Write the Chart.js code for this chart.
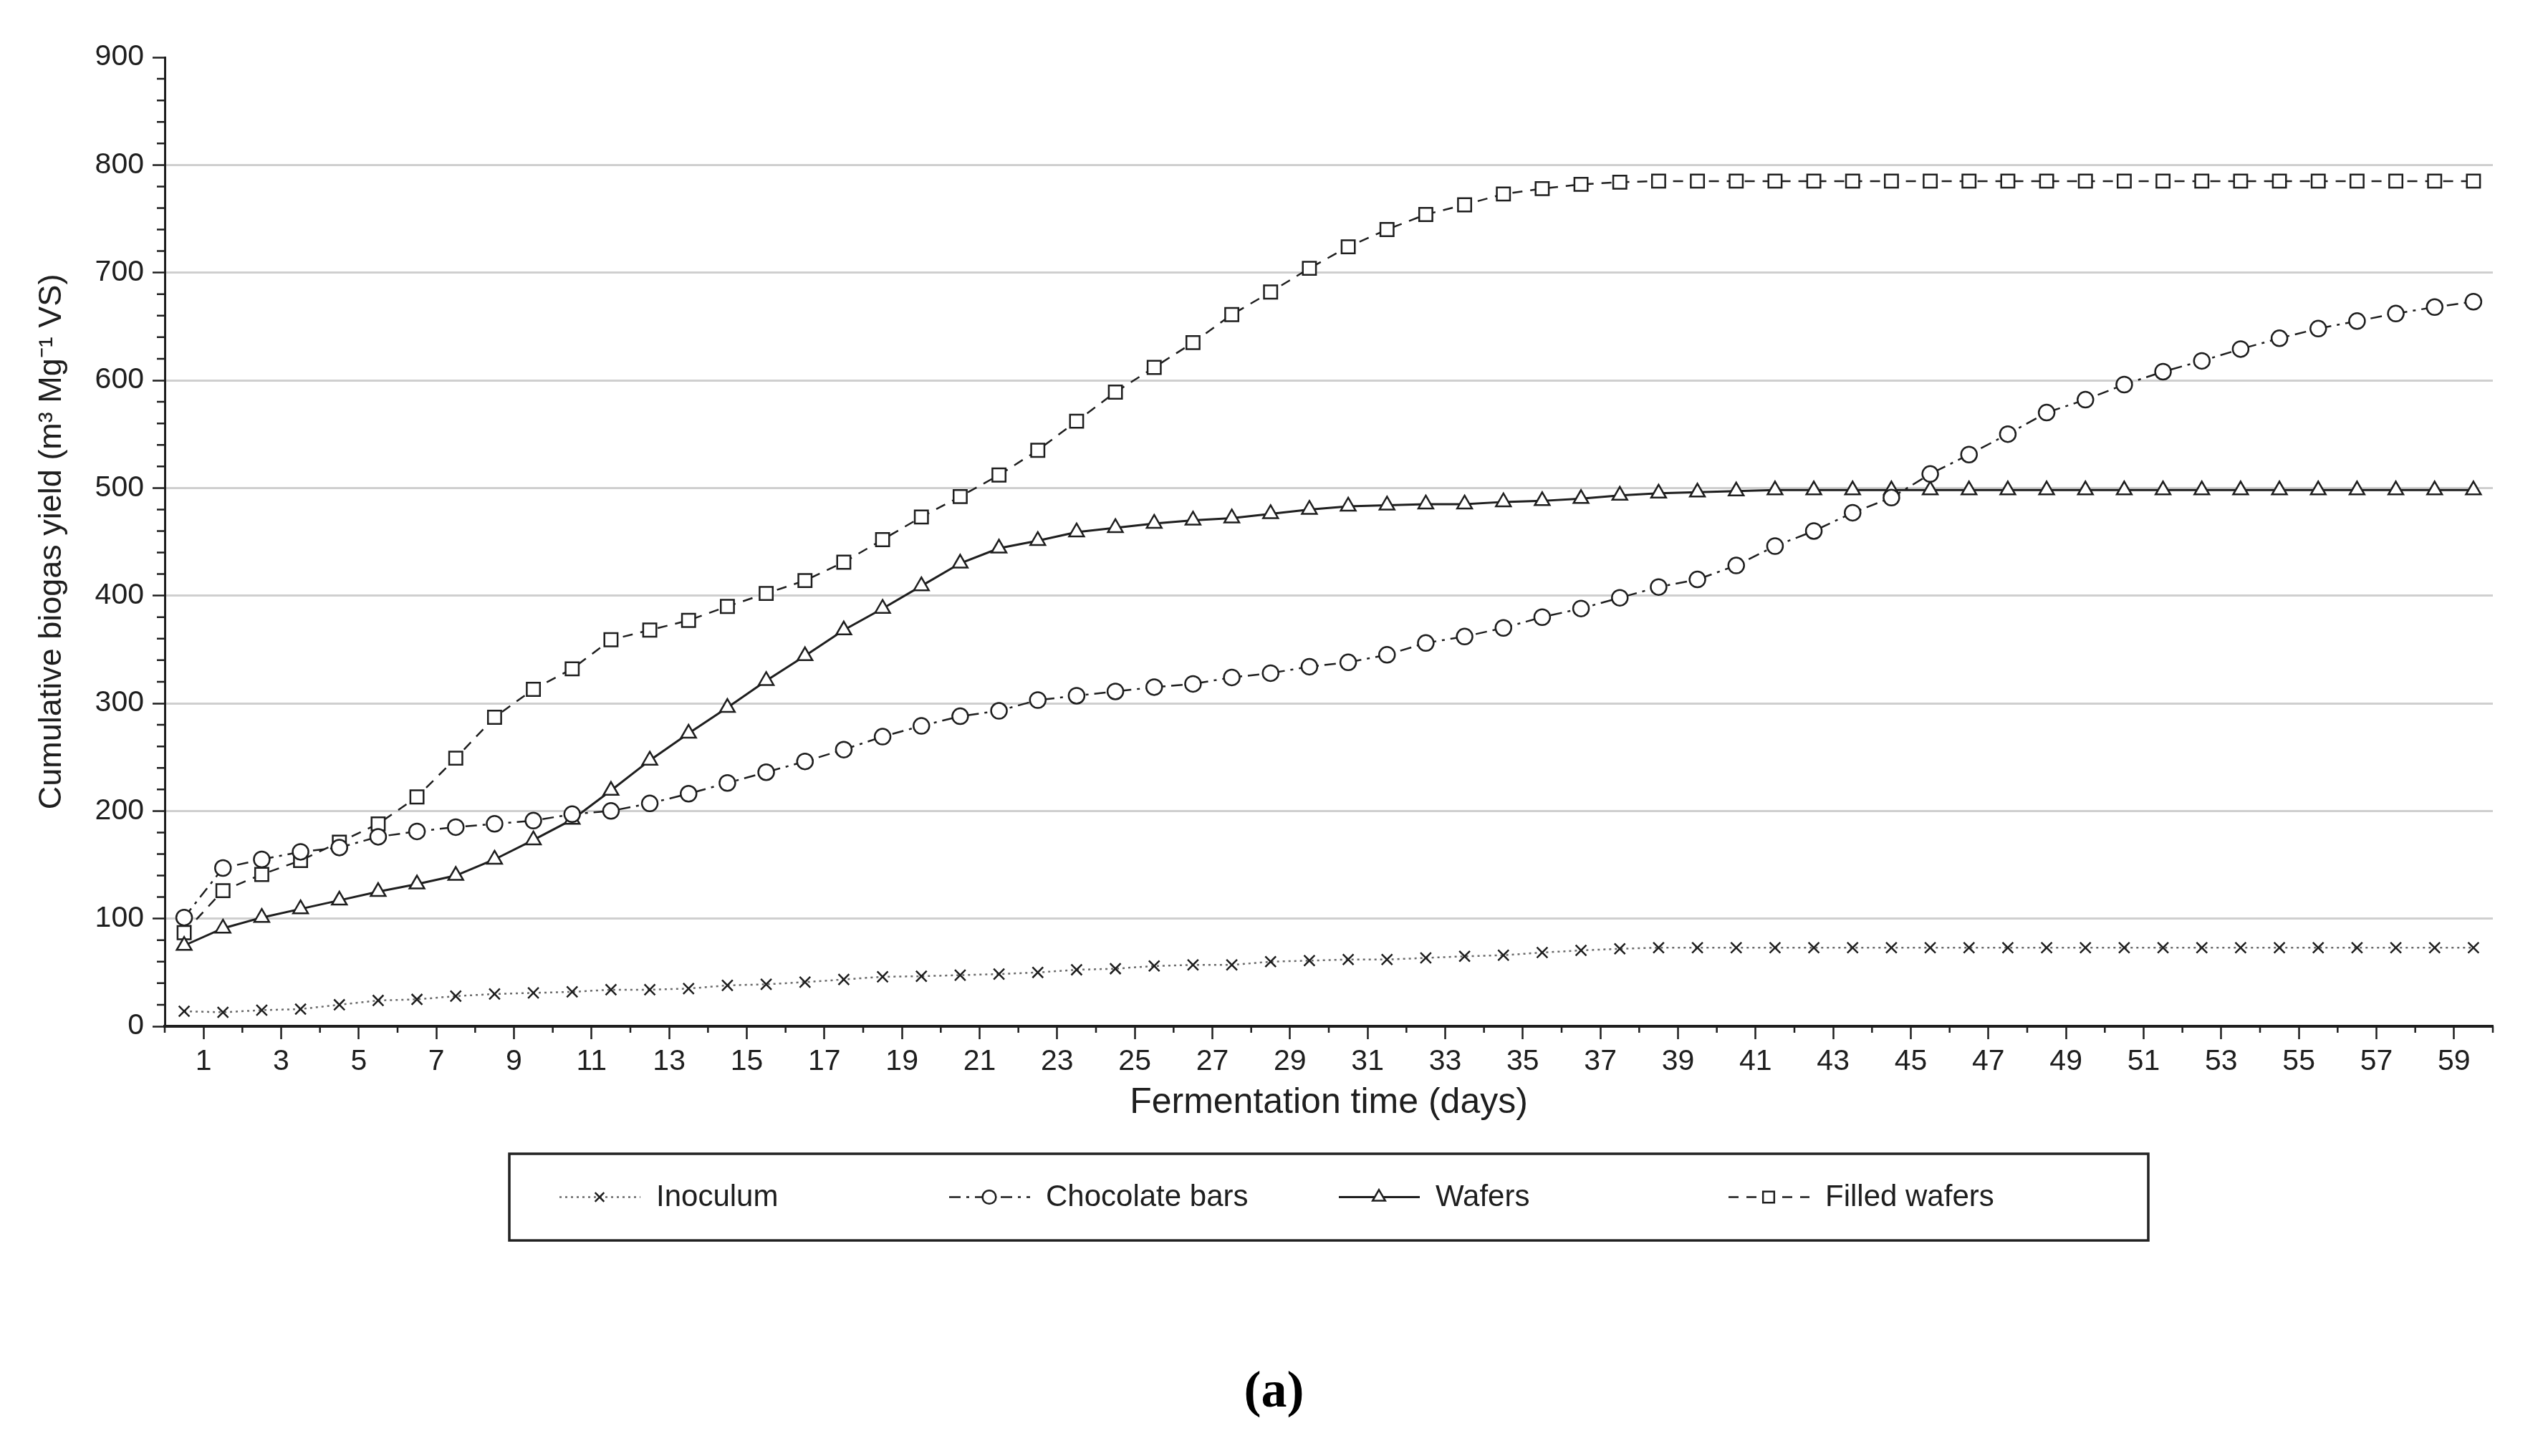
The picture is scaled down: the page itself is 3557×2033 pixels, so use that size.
<!DOCTYPE html>
<html>
<head>
<meta charset="utf-8">
<script src="https://cdn.jsdelivr.net/npm/chart.js@4.4.1/dist/chart.umd.min.js"></script>
<style>
    html, body { margin: 0; padding: 0; background: #fff; }
    #wrap { width: 3557px; height: 2033px; position: relative; }
</style>
</head>
<body>
<div id="wrap"><canvas id="biogasChart"></canvas></div>
<script>
// Fermentation time (days) - measurements taken mid-day
const days = [0.5, 1.5, 2.5, 3.5, 4.5, 5.5, 6.5, 7.5, 8.5, 9.5,
    10.5, 11.5, 12.5, 13.5, 14.5, 15.5, 16.5, 17.5, 18.5, 19.5,
    20.5, 21.5, 22.5, 23.5, 24.5, 25.5, 26.5, 27.5, 28.5, 29.5,
    30.5, 31.5, 32.5, 33.5, 34.5, 35.5, 36.5, 37.5, 38.5, 39.5,
    40.5, 41.5, 42.5, 43.5, 44.5, 45.5, 46.5, 47.5, 48.5, 49.5,
    50.5, 51.5, 52.5, 53.5, 54.5, 55.5, 56.5, 57.5, 58.5, 59.5];

// Cumulative biogas yield (m3 Mg-1 VS)
const inoculum = [14, 13, 15, 16, 20, 24, 25, 28, 30, 31,
    32, 34, 34, 35, 38, 39, 41, 43.5, 46, 46.5,
    47.5, 48.5, 50, 52.5, 53.5, 56, 57, 57, 60, 61,
    62, 62, 63.5, 65, 66, 68.5, 70.5, 72, 73, 73,
    73, 73, 73, 73, 73, 73, 73, 73, 73, 73,
    73, 73, 73, 73, 73, 73, 73, 73, 73, 73];
const chocolateBars = [101, 147, 155, 162, 166, 176, 181, 185, 188, 191,
    197, 200, 207, 216, 226, 236, 246, 257, 269, 279,
    288, 293, 303, 307, 311, 315, 318, 324, 328, 334,
    338, 345, 356, 362, 370, 380, 388, 398, 408, 415,
    428, 446, 460, 477, 491, 513, 531, 550, 570, 582,
    596, 608, 618, 629, 639, 648, 655, 662, 668, 673];
const wafers = [75, 91, 101, 109, 117, 125, 132, 140, 155, 173,
    192, 219, 247, 272, 296, 321, 344, 368, 388, 409,
    430, 444, 451, 459, 463, 467, 470, 472, 476, 480,
    483, 484, 485, 485, 487, 488, 490, 493, 495, 496,
    497, 498, 498, 498, 498, 498, 498, 498, 498, 498,
    498, 498, 498, 498, 498, 498, 498, 498, 498, 498];
const filledWafers = [87, 126, 141, 154, 171, 188, 213, 249, 287, 313,
    332, 359, 368, 377, 390, 402, 414, 431, 452, 473,
    492, 512, 535, 562, 589, 612, 635, 661, 682, 704,
    724, 740, 754, 763, 773, 778, 782, 784, 785, 785,
    785, 785, 785, 785, 785, 785, 785, 785, 785, 785,
    785, 785, 785, 785, 785, 785, 785, 785, 785, 785];

const seriesNames = ['Inoculum', 'Chocolate bars', 'Wafers', 'Filled wafers'];
const xLabelDays = [1, 3, 5, 7, 9, 11, 13, 15, 17, 19, 21, 23, 25, 27, 29,
    31, 33, 35, 37, 39, 41, 43, 45, 47, 49, 51, 53, 55, 57, 59];

const FONT = '"Liberation Sans", Arial, sans-serif';
const INK = '#1e1e1e';

function toPoints(values) {
    let pts = [];
    for (let i = 0; i < days.length; i++) {
        pts.push({ x: days[i], y: values[i] });
    }
    return pts;
}

// short ticks, legend box and caption
const extrasPlugin = {
    id: 'extras',
    afterDraw(chart) {
        const ctx = chart.ctx;
        const area = chart.chartArea;
        const xs = chart.scales.x;
        const ys = chart.scales.y;
        ctx.save();

        // minor ticks
        ctx.strokeStyle = INK;
        ctx.lineWidth = 2.5;
        ctx.beginPath();
        for (let v = 20; v < 900; v += 20) {
            if (v % 100 === 0) continue;
            const y = ys.getPixelForValue(v);
            ctx.moveTo(area.left - 11, y);
            ctx.lineTo(area.left, y);
        }
        for (let d = 0; d <= 60; d += 2) {
            const x = xs.getPixelForValue(d);
            ctx.moveTo(x, area.bottom);
            ctx.lineTo(x, area.bottom + 9);
        }
        ctx.stroke();

        // legend
        const boxW = 2288, boxH = 121;
        const boxL = (area.left + area.right) / 2 - boxW / 2;
        const boxT = area.bottom + 178;
        ctx.lineWidth = 3.5;
        ctx.strokeStyle = '#222';
        ctx.strokeRect(boxL, boxT, boxW, boxH);

        const cy = boxT + boxH / 2;
        chart.data.datasets.forEach((ds, i) => {
            const x0 = boxL + 70 + i * 544;
            ctx.setLineDash(ds.borderDash || []);
            ctx.strokeStyle = ds.borderColor;
            ctx.lineWidth = ds.borderWidth;
            ctx.beginPath();
            ctx.moveTo(x0, cy);
            ctx.lineTo(x0 + 113, cy);
            ctx.stroke();
            ctx.setLineDash([]);
            ctx.fillStyle = ds.pointBackgroundColor;
            ctx.strokeStyle = ds.pointBorderColor;
            ctx.lineWidth = ds.pointBorderWidth;
            Chart.helpers.drawPoint(ctx, {
                pointStyle: ds.pointStyle,
                radius: ds.pointRadius * 0.85,
                rotation: 0,
                borderWidth: ds.pointBorderWidth
            }, x0 + 56, cy);
            ctx.fillStyle = INK;
            ctx.font = '42px ' + FONT;
            ctx.textAlign = 'left';
            ctx.textBaseline = 'middle';
            ctx.fillText(ds.label, x0 + 135, cy + 1);
        });

        // caption
        ctx.fillStyle = '#000';
        ctx.font = 'bold 72px "Liberation Serif", "DejaVu Serif", serif';
        ctx.textAlign = 'center';
        ctx.textBaseline = 'middle';
        ctx.fillText('(a)', chart.width / 2, 1945);
        ctx.restore();
    }
};

const ctxBio = document.getElementById('biogasChart').getContext('2d');
const biogasChart = new Chart(ctxBio, {
    type: 'line',
    data: {
        datasets: [{
            label: seriesNames[0],
            data: toPoints(inoculum),
            borderColor: '#6a6a6a',
            borderWidth: 2.5,
            borderDash: [3, 5],
            pointStyle: 'crossRot',
            pointRadius: 10.5,
            pointBorderWidth: 2.5,
            pointBorderColor: INK,
            pointBackgroundColor: '#fff'
        }, {
            label: seriesNames[1],
            data: toPoints(chocolateBars),
            borderColor: INK,
            borderWidth: 2.5,
            borderDash: [16, 8, 4, 8],
            pointStyle: 'circle',
            pointRadius: 11,
            pointBorderWidth: 2.5,
            pointBorderColor: INK,
            pointBackgroundColor: '#fff'
        }, {
            label: seriesNames[2],
            data: toPoints(wafers),
            borderColor: INK,
            borderWidth: 3,
            pointStyle: 'triangle',
            pointRadius: 12,
            pointBorderWidth: 2.5,
            pointBorderColor: INK,
            pointBackgroundColor: '#fff'
        }, {
            label: seriesNames[3],
            data: toPoints(filledWafers),
            borderColor: INK,
            borderWidth: 2.5,
            borderDash: [14, 11],
            pointStyle: 'rect',
            pointRadius: 13,
            pointBorderWidth: 2.5,
            pointBorderColor: INK,
            pointBackgroundColor: '#fff'
        }]
    },
    options: {
        responsive: true,
        maintainAspectRatio: false,
        animation: false,
        devicePixelRatio: 1,
        layout: { padding: { left: 0, right: 77, top: 80, bottom: 450 } },
        elements: { line: { tension: 0 } },
        plugins: {
            legend: { display: false },
            tooltip: { enabled: false }
        },
        scales: {
            x: {
                type: 'linear',
                min: 0,
                max: 60,
                afterFit: (scale) => { scale.height = 150; },
                border: { color: INK, width: 4 },
                grid: {
                    drawOnChartArea: false,
                    tickLength: 18,
                    tickWidth: 2.5,
                    tickColor: (c) => (c.tick && xLabelDays.includes(c.tick.value)) ? INK : 'rgba(0,0,0,0)'
                },
                ticks: {
                    stepSize: 1,
                    autoSkip: false,
                    maxRotation: 0,
                    padding: 7,
                    color: INK,
                    font: { family: FONT, size: 41 },
                    callback: (v) => xLabelDays.includes(v) ? String(v) : ''
                },
                title: {
                    display: true,
                    text: 'Fermentation time (days)',
                    color: INK,
                    font: { family: FONT, size: 50, lineHeight: 1 },
                    padding: { top: 0, bottom: 18 }
                }
            },
            y: {
                min: 0,
                max: 900,
                afterFit: (scale) => { scale.width = 230; },
                border: { color: INK, width: 3 },
                grid: {
                    color: (c) => (c.tick && c.tick.value > 0 && c.tick.value < 900) ? '#cfcfcf' : 'rgba(0,0,0,0)',
                    lineWidth: 3,
                    tickLength: 17,
                    tickWidth: 2.5,
                    tickColor: INK
                },
                ticks: {
                    stepSize: 100,
                    padding: 12,
                    color: INK,
                    font: { family: FONT, size: 41 }
                },
                title: {
                    display: true,
                    text: 'Cumulative biogas yield (m³ Mg⁻¹ VS)',
                    color: INK,
                    font: { family: FONT, size: 45, lineHeight: 1 },
                    padding: { top: 50, bottom: 0 }
                }
            }
        }
    },
    plugins: [extrasPlugin]
});
</script>
</body>
</html>
